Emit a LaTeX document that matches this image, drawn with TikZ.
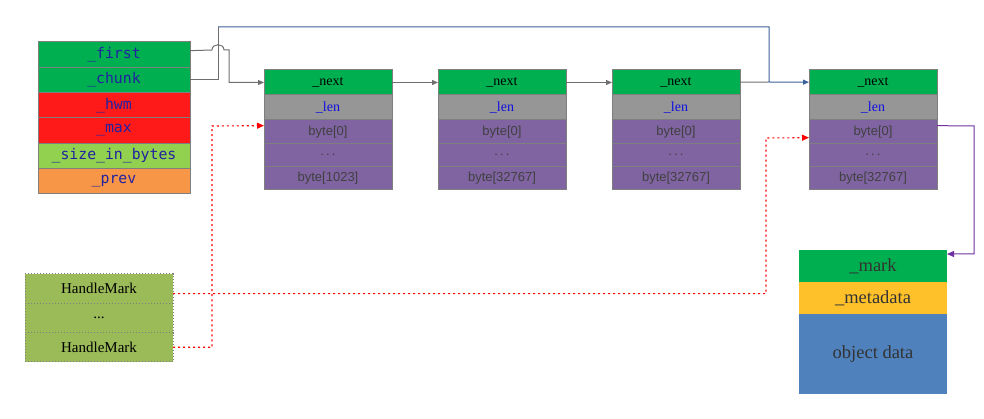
\documentclass[tikz,border=0pt]{standalone}
\usepackage{fontspec}
\setmainfont{Liberation Serif}
\setsansfont{Liberation Sans}
\setmonofont{DejaVu Sans Mono}
\usepackage{tikz}
\usetikzlibrary{arrows.meta,positioning}
\definecolor{CellGray}{HTML}{7F7F7F}
\definecolor{NextGreen}{HTML}{00B050}
\definecolor{LenGray}{HTML}{969696}
\definecolor{BytePurple}{HTML}{8064A2}
\definecolor{ByteText}{HTML}{404040}
\definecolor{HwmRed}{HTML}{FF1A1A}
\definecolor{SizeGreen}{HTML}{92D050}
\definecolor{PrevOrange}{HTML}{F79646}
\definecolor{FieldBlue}{HTML}{2222A0}
\definecolor{LenBlue}{HTML}{1010E0}
\definecolor{HandleGreen}{HTML}{9BBB59}
\definecolor{MetaYellow}{HTML}{FFC12A}
\definecolor{DataBlue}{HTML}{4F81BD}
\definecolor{LinkGray}{HTML}{6E6E6E}
\definecolor{TopBlue}{HTML}{3B5F9A}
\definecolor{PtrPurple}{HTML}{7030A0}

\begin{document}
\begin{tikzpicture}[x=1pt,y=-1pt,
  node distance=0pt,
  cell/.style={draw=CellGray,line width=1pt,inner sep=0pt,outer sep=0pt,
    minimum width=128pt,minimum height=24pt},
  nextcell/.style={cell,fill=NextGreen,minimum height=25pt,font=\fontsize{14}{14}\selectfont},
  lencell/.style={cell,fill=LenGray,minimum height=25pt,text=LenBlue,font=\fontsize{14}{14}\selectfont},
  bytecell/.style={cell,fill=BytePurple,minimum height=23.3pt,text=ByteText,font=\fontsize{13}{13}\sffamily},
  field/.style={cell,minimum width=152pt,minimum height=25.3pt,text=FieldBlue,
    font=\fontsize{14.8}{14.8}\ttfamily},
  hmcell/.style={draw=CellGray,dotted,line width=1pt,fill=HandleGreen,inner sep=0pt,outer sep=0pt,
    minimum width=148pt,minimum height=29.3pt,font=\fontsize{15}{15}\selectfont},
  objcell/.style={inner sep=0pt,outer sep=0pt,minimum width=148pt,minimum height=32pt,
    text=black!80,font=\fontsize{18.5}{18.5}\selectfont},
  link/.style={-{Triangle[length=6pt,width=5pt]},line width=1pt,color=LinkGray},
  toplink/.style={-{Triangle[length=6pt,width=5pt]},line width=1pt,color=TopBlue},
  markline/.style={-{Triangle[length=7pt,width=6pt]},line width=1.1pt,color=red,dash pattern=on 2pt off 3pt},
  ptrline/.style={-{Triangle[length=7pt,width=6pt]},line width=1pt,color=PtrPurple}
]
\useasboundingbox (0,0) rectangle (984,419);

% arena header
\node[field,fill=NextGreen,anchor=north west] (first) at (38,42) {\_first};
\node[field,fill=NextGreen,below=of first] (chunk) {\_chunk};
\node[field,fill=HwmRed,below=of chunk] (hwm) {\_hwm};
\node[field,fill=HwmRed,below=of hwm] (max) {\_max};
\node[field,fill=SizeGreen,below=of max] (size) {\_size\_in\_bytes};
\node[field,fill=PrevOrange,below=of size] (prev) {\_prev};

% chunks
\foreach \n/\x/\last in {1/264/1023,2/438/32767,3/612/32767,4/809/32767}{
  \node[nextcell,anchor=north west] (c\n-next) at (\x,70) {\_next};
  \node[lencell,below=of c\n-next] (c\n-len) {\_len};
  \node[bytecell,below=of c\n-len] (c\n-b0) {byte[0]};
  \node[bytecell,below=of c\n-b0] (c\n-dots) {.\,.\,.};
  \node[bytecell,below=of c\n-dots] (c\n-last) {byte[\last]};
}

% handle marks
\node[hmcell,anchor=north west] (hm1) at (25,274) {HandleMark};
\node[hmcell,below=of hm1] (hm2) {...};
\node[hmcell,below=of hm2] (hm3) {HandleMark};

% object
\node[objcell,fill=NextGreen,anchor=north west] (mark) at (799,250) {\_mark};
\node[objcell,fill=MetaYellow,below=of mark] (meta) {\_metadata};
\node[objcell,fill=DataBlue,minimum height=80pt,below=of meta] (data) {object data};

% turning points
\coordinate (hopL) at (212,50);
\coordinate (hopR) at (224,50);
\coordinate (top) at (218,27);
\coordinate (merge) at (769,82);
\coordinate (hmturn) at (766,138);
\coordinate (hmturn2) at (212,126);
\coordinate (pturn) at (974,126);

\draw[link] (c1-next) -- (c2-next);
\draw[link] (c2-next) -- (c3-next);
\draw[line width=1pt,LinkGray] (c3-next) -- (merge);
\draw[link] ([yshift=4pt]first.east) -- (hopL)
  .. controls (212,43) and (224,43) .. (hopR) -- ++(5,0) |- (c1-next.west);
\draw[line width=1pt,LinkGray] (chunk.east) -| (top);
\draw[toplink] (top) -| (merge) -- (c4-next);
\draw[markline] ([yshift=-5pt]hm1.east) -| (hmturn) -- ([yshift=-6pt]c4-b0.west);
\draw[markline] (hm3.east) -| (hmturn2) -- ([yshift=6pt]c1-b0.west);
\draw[ptrline] ([yshift=6pt]c4-b0.east) -- (pturn) |- ([yshift=12pt]mark.east);
\end{tikzpicture}
\end{document}
